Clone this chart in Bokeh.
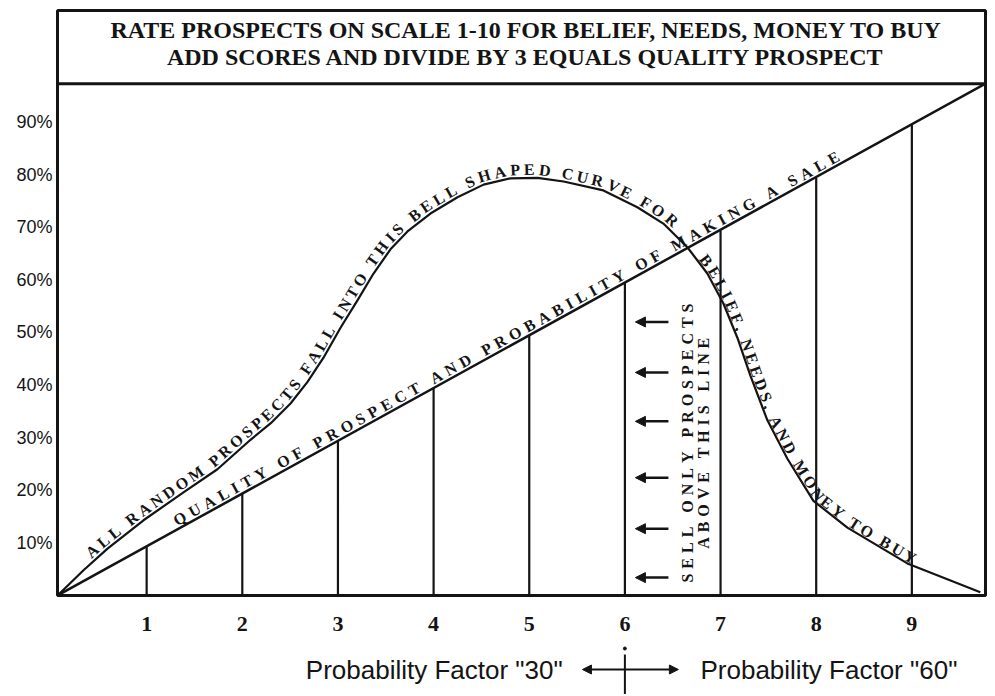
import numpy as np
from bokeh.plotting import figure
from bokeh.models import (Range1d, FixedTicker, PrintfTickFormatter, Span, Arrow,
                          NormalHead, ColumnDataSource)
from bokeh.layouts import column
from bokeh.embed import file_html
from bokeh.resources import INLINE
from bokeh.core.properties import value

# ---------------- data ----------------
score_ticks = [1, 2, 3, 4, 5, 6, 7, 8, 9]
pct_ticks = [10, 20, 30, 40, 50, 60, 70, 80, 90]
stem_heights = [9.4, 19.4, 29.4, 39.4, 49.4, 59.4, 69.4, 79.4, 89.5]
quality_x = [0.068, 9.77]
quality_y = [0.0, 97.3]
bell_x = [0.068, 0.340, 0.591, 0.967, 1.385, 1.740, 2.086, 2.295, 2.504, 2.682,
          2.849, 3.027, 3.204, 3.372, 3.549, 3.727, 3.967, 4.250, 4.522, 4.804,
          5.087, 5.359, 5.775, 6.130, 6.402, 6.653, 6.862, 7.030, 7.176, 7.312,
          7.490, 7.699, 7.971, 8.326, 8.953, 9.716]
bell_y = [0.0, 4.8, 8.9, 14.3, 19.6, 24.0, 29.6, 32.7, 36.5, 40.6,
          45.2, 50.9, 56.1, 61.2, 65.8, 69.2, 72.6, 75.7, 78.1, 79.3,
          79.4, 78.7, 77.0, 73.8, 70.7, 66.2, 61.2, 55.5, 49.0, 41.8,
          33.3, 26.0, 18.0, 12.9, 6.1, 0.6]
arrow_levels = [52.0, 42.4, 33.1, 22.4, 12.7, 3.4]
title_lines = ["RATE PROSPECTS ON SCALE 1-10 FOR BELIEF, NEEDS, MONEY TO BUY",
               "ADD SCORES AND DIVIDE BY 3 EQUALS QUALITY PROSPECT"]
bell_text_up = "ALL RANDOM PROSPECTS FALL INTO THIS BELL SHAPED CURVE FOR"
bell_text_down = "BELIEF, NEEDS, AND MONEY TO BUY"
quality_text = "QUALITY OF PROSPECT AND PROBABILITY OF MAKING A SALE"
sell_text = ["SELL ONLY PROSPECTS", "ABOVE THIS LINE"]
factor_labels = ['Probability Factor "30"', 'Probability Factor "60"']

# ---------------- layout ----------------
W, H_TOP, H_BOT = 987, 645, 49
BL, BR, BT, BB = 57, 2, 10, 50
X0, X1 = 0.068, 9.77
Y0, Y1 = 0.0, 111.2
DIVIDER = 97.3
PX = (W - BL - BR) / (X1 - X0)
PY = (H_TOP - BT - BB) / (Y1 - Y0)
INK = "#141414"
SERIF = value("Liberation Serif")
SANS = value("Liberation Sans")

SERIF_B = {'A': .722, 'B': .667, 'C': .722, 'D': .722, 'E': .667, 'F': .611, 'G': .778,
           'H': .778, 'I': .389, 'J': .5, 'K': .778, 'L': .667, 'M': .944, 'N': .722,
           'O': .778, 'P': .611, 'Q': .778, 'R': .722, 'S': .556, 'T': .667, 'U': .722,
           'V': .722, 'W': 1.0, 'X': .722, 'Y': .722, 'Z': .667, ' ': .25, ',': .25,
           '.': .25, '-': .333}


def place_on_path(sx, sy, text, s0, s1, size, offset):
    sx = np.asarray(sx, float)
    sy = np.asarray(sy, float)
    s = np.concatenate([[0.0], np.cumsum(np.hypot(np.diff(sx), np.diff(sy)))])
    widths = [SERIF_B.get(c, .7) * size for c in text]
    track = (s1 - s0 - sum(widths)) / max(len(text) - 1, 1)
    out = dict(x=[], y=[], a=[], t=[])
    pos = s0
    for c, w in zip(text, widths):
        cc = pos + w / 2
        pos += w + track
        if c == ' ':
            continue
        px, py = np.interp(cc, s, sx), np.interp(cc, s, sy)
        ax, ay = np.interp(cc - 7, s, sx), np.interp(cc - 7, s, sy)
        bx, by = np.interp(cc + 7, s, sx), np.interp(cc + 7, s, sy)
        th = np.arctan2(by - ay, bx - ax)
        px += -np.sin(th) * offset
        py += np.cos(th) * offset
        out['x'].append(px / PX + X0)
        out['y'].append(py / PY + Y0)
        out['a'].append(float(th))
        out['t'].append(c)
    return out


def along_series(xs, ys, text, x_from, x_to, size, offset):
    sx = (np.asarray(xs, float) - X0) * PX
    sy = (np.asarray(ys, float) - Y0) * PY
    s = np.concatenate([[0.0], np.cumsum(np.hypot(np.diff(sx), np.diff(sy)))])
    s0 = np.interp((x_from - X0) * PX, sx, s)
    s1 = np.interp((x_to - X0) * PX, sx, s)
    return place_on_path(sx, sy, text, s0, s1, size, offset)


def vertical(xc, y_lo, y_hi, text, size):
    sx = [(xc - X0) * PX] * 2
    sy = [(y_lo - Y0) * PY, (y_hi - Y0) * PY]
    return place_on_path(sx, sy, text, 0.0, sy[1] - sy[0], size, 0.0)


# ---------------- top figure ----------------
p = figure(width=W, height=H_TOP, x_range=Range1d(X0, X1), y_range=Range1d(Y0, Y1),
           output_backend="svg", toolbar_location=None,
           min_border_left=BL, min_border_right=BR, min_border_top=BT, min_border_bottom=BB)
p.background_fill_color = "white"
p.border_fill_color = "white"
p.grid.visible = False
p.outline_line_color = INK
p.outline_line_width = 3

p.xaxis.ticker = FixedTicker(ticks=score_ticks)
p.yaxis.ticker = FixedTicker(ticks=pct_ticks)
p.yaxis.formatter = PrintfTickFormatter(format="%d%%")
for ax in (p.xaxis, p.yaxis):
    ax.axis_line_color = None
    ax.major_tick_line_color = None
    ax.minor_tick_line_color = None
    ax.major_tick_out = 0
    ax.major_tick_in = 0
    ax.major_label_text_color = INK
p.xaxis.major_label_text_font = "Liberation Serif"
p.xaxis.major_label_text_font_style = "bold"
p.xaxis.major_label_text_font_size = "22px"
p.xaxis.major_label_standoff = 21
p.yaxis.major_label_text_font = "Liberation Sans"
p.yaxis.major_label_text_font_size = "18px"
p.yaxis.major_label_standoff = 5

p.add_layout(Span(location=DIVIDER, dimension="width", line_color=INK, line_width=3))
xm = (X0 + X1) / 2 + 0.05
p.text(x=[xm, xm], y=[107.4, 102.3], text=title_lines, text_font=SERIF,
       text_font_style="bold", text_font_size="24px", text_color=INK,
       text_align="center", text_baseline="middle")

p.segment(x0=score_ticks, y0=[0] * len(score_ticks), x1=score_ticks, y1=stem_heights,
          line_color=INK, line_width=2.2)
p.line(quality_x, quality_y, line_color=INK, line_width=2.5)
p.line(bell_x, bell_y, line_color=INK, line_width=2.2, line_join="round")

arrows = ColumnDataSource(dict(xs=[6.455] * len(arrow_levels), xe=[6.11] * len(arrow_levels),
                               y=arrow_levels))
p.add_layout(Arrow(end=NormalHead(size=10, line_color=INK, fill_color=INK),
                   x_start="xs", y_start="y", x_end="xe", y_end="y", source=arrows,
                   line_color=INK, line_width=2.5))

pieces = [
    along_series(bell_x, bell_y, bell_text_up, 0.444, 6.475, 16, 8.5),
    along_series(bell_x, bell_y, bell_text_down, 6.758, 9.005, 16, 7.0),
    along_series(quality_x, quality_y, quality_text, 1.333, 8.273, 16, 8.5),
    vertical(6.654, 2.47, 55.5, sell_text[0], 16),
    vertical(6.822, 8.9, 49.0, sell_text[1], 16),
]
for d in pieces:
    p.text(x="x", y="y", text="t", angle="a", source=ColumnDataSource(d),
           text_font=SERIF, text_font_style="bold", text_font_size="16px",
           text_color=INK, text_align="center", text_baseline="middle")

# ---------------- bottom strip ----------------
q = figure(width=W, height=H_BOT, x_range=p.x_range, y_range=Range1d(694, 645),
           output_backend="svg", toolbar_location=None, x_axis_type=None, y_axis_type=None,
           min_border_left=BL, min_border_right=BR, min_border_top=0, min_border_bottom=0)
q.grid.visible = False
q.outline_line_color = None
q.background_fill_color = "white"
q.border_fill_color = "white"
q.segment(x0=[6.0], y0=[654], x1=[6.0], y1=[694], line_color=INK, line_width=2)
q.scatter(x=[6.0], y=[648], size=3, color=INK)
q.add_layout(Arrow(start=NormalHead(size=9, line_color=INK, fill_color=INK),
                   end=NormalHead(size=9, line_color=INK, fill_color=INK),
                   x_start=5.556, y_start=669, x_end=6.559, y_end=669,
                   line_color=INK, line_width=2))
q.text(x=[5.35, 6.79], y=[669, 669], text=factor_labels, text_font=SANS,
       text_font_size="26px", text_color=INK, text_align=["right", "left"],
       text_baseline="middle")

layout = column(p, q, spacing=0)
open("out.html", "w").write(file_html(layout, INLINE))
